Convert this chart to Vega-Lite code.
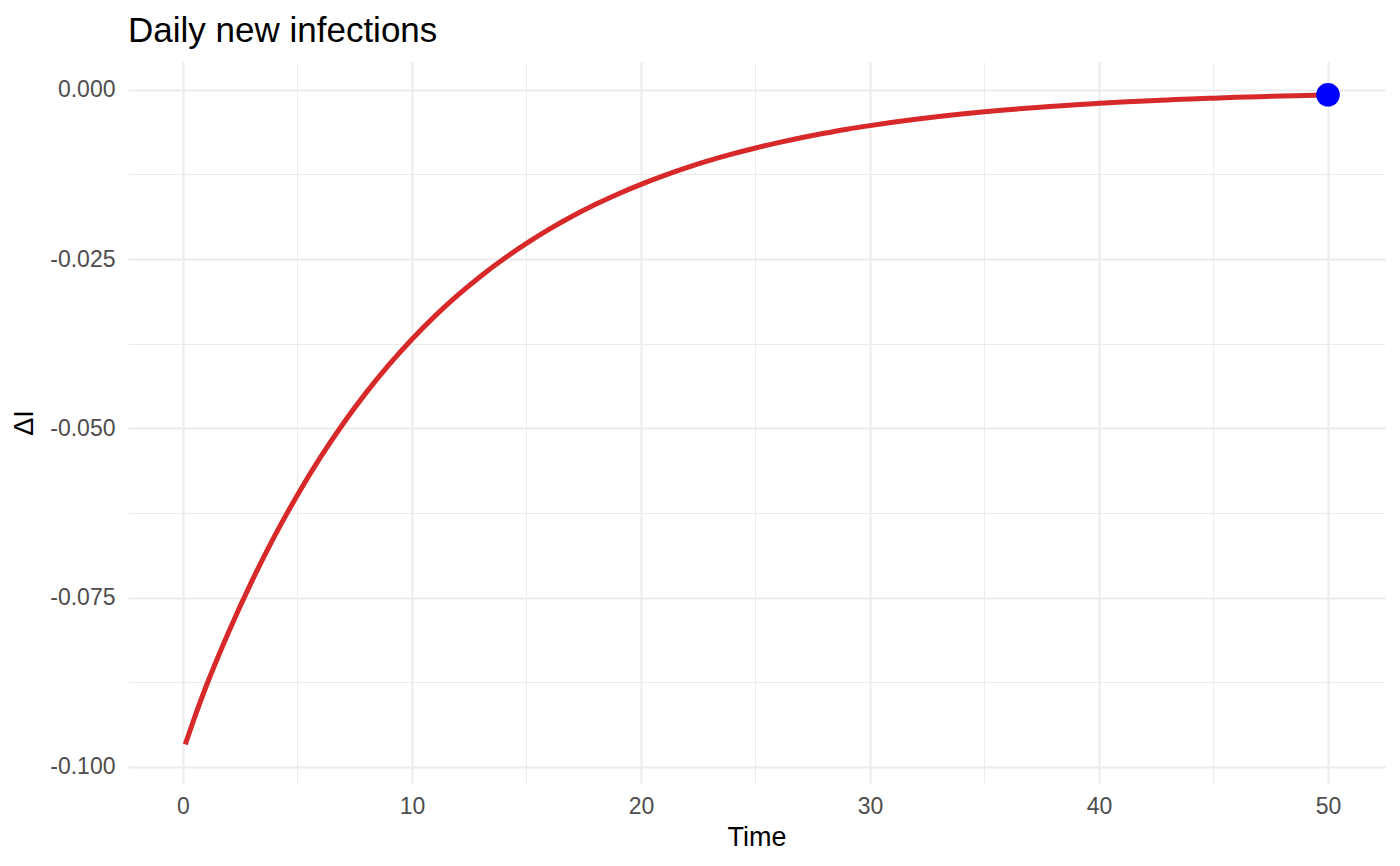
{
  "$schema": "https://vega.github.io/schema/vega-lite/v6.json",
  "autosize": "none",
  "width": 1257,
  "height": 721,
  "padding": {"left": 128, "top": 62, "right": 15, "bottom": 83},
  "background": "white",
  "title": {
    "text": "Daily new infections",
    "anchor": "start",
    "frame": "group",
    "baseline": "alphabetic",
    "offset": -15,
    "fontSize": 35,
    "fontWeight": "normal",
    "color": "black",
    "font": "Liberation Sans"
  },
  "layer": [
    {
      "data": {
        "values": [
          {"t": 0.1, "dI": -0.0967},
          {"t": 0.5, "dI": -0.0928},
          {"t": 1, "dI": -0.08822},
          {"t": 1.5, "dI": -0.08404},
          {"t": 2, "dI": -0.08006},
          {"t": 3, "dI": -0.07266},
          {"t": 4, "dI": -0.06594},
          {"t": 5, "dI": -0.05985},
          {"t": 6, "dI": -0.05431},
          {"t": 7, "dI": -0.04929},
          {"t": 8, "dI": -0.04474},
          {"t": 9, "dI": -0.0406},
          {"t": 10, "dI": -0.03685},
          {"t": 11, "dI": -0.03344},
          {"t": 12, "dI": -0.03035},
          {"t": 13, "dI": -0.02754},
          {"t": 14, "dI": -0.025},
          {"t": 15, "dI": -0.02269},
          {"t": 16, "dI": -0.02059},
          {"t": 17, "dI": -0.01869},
          {"t": 18, "dI": -0.01696},
          {"t": 19, "dI": -0.01539},
          {"t": 20, "dI": -0.01397},
          {"t": 21, "dI": -0.01268},
          {"t": 22, "dI": -0.0115},
          {"t": 23, "dI": -0.01044},
          {"t": 24, "dI": -0.00948},
          {"t": 25, "dI": -0.0086},
          {"t": 26, "dI": -0.00781},
          {"t": 27, "dI": -0.00708},
          {"t": 28, "dI": -0.00643},
          {"t": 29, "dI": -0.00583},
          {"t": 30, "dI": -0.0053},
          {"t": 31, "dI": -0.00481},
          {"t": 32, "dI": -0.00436},
          {"t": 33, "dI": -0.00396},
          {"t": 34, "dI": -0.00359},
          {"t": 35, "dI": -0.00326},
          {"t": 36, "dI": -0.00296},
          {"t": 37, "dI": -0.00269},
          {"t": 38, "dI": -0.00244},
          {"t": 39, "dI": -0.00221},
          {"t": 40, "dI": -0.00201},
          {"t": 41, "dI": -0.00182},
          {"t": 42, "dI": -0.00165},
          {"t": 43, "dI": -0.0015},
          {"t": 44, "dI": -0.00136},
          {"t": 45, "dI": -0.00124},
          {"t": 46, "dI": -0.00112},
          {"t": 47, "dI": -0.00102},
          {"t": 48, "dI": -0.00092},
          {"t": 49, "dI": -0.00084},
          {"t": 50, "dI": -0.00076}
        ]
      },
      "mark": {"type": "line", "color": "#D7282A", "strokeWidth": 5, "strokeCap": "butt", "interpolate": "monotone", "clip": true},
      "encoding": {
        "x": {
          "field": "t",
          "type": "quantitative",
          "scale": {"domain": [-2.4, 52.49], "nice": false, "zero": false},
          "axis": {
            "title": "Time",
            "values": [0, 5, 10, 15, 20, 25, 30, 35, 40, 45, 50],
            "labelExpr": "datum.value % 10 === 0 ? datum.label : ''",
            "gridWidth": {"condition": {"test": "datum.value % 10 === 0", "value": 2}, "value": 1},
            "labelPadding": 12,
            "titlePadding": 6
          }
        },
        "y": {
          "field": "dI",
          "type": "quantitative",
          "scale": {"domain": [-0.1024, 0.0041], "nice": false, "zero": false},
          "axis": {
            "title": "ΔI",
            "values": [-0.1, -0.0875, -0.075, -0.0625, -0.05, -0.0375, -0.025, -0.0125, 0],
            "labelExpr": "abs(round(datum.value * 10000)) % 250 === 0 ? replace(format(datum.value, '.3f'), '−', '-') : ''",
            "gridWidth": {"condition": {"test": "abs(round(datum.value * 10000)) % 250 === 0", "value": 2}, "value": 1},
            "labelPadding": 13,
            "titlePadding": 11
          }
        }
      }
    },
    {
      "data": {"values": [{"t": 50, "dI": -0.00074}]},
      "mark": {"type": "circle", "color": "#0000FF", "opacity": 1, "size": 560},
      "encoding": {
        "x": {"field": "t", "type": "quantitative"},
        "y": {"field": "dI", "type": "quantitative"}
      }
    }
  ],
  "config": {
    "view": {"stroke": null},
    "font": "Liberation Sans",
    "axis": {
      "domain": false,
      "ticks": false,
      "grid": true,
      "gridColor": "#EBEBEB",
      "labelFont": "Liberation Sans",
      "labelFontSize": 23,
      "labelColor": "#4D4D4D",
      "titleFont": "Liberation Sans",
      "titleFontSize": 27,
      "titleFontWeight": "normal",
      "titleColor": "black"
    }
  }
}
